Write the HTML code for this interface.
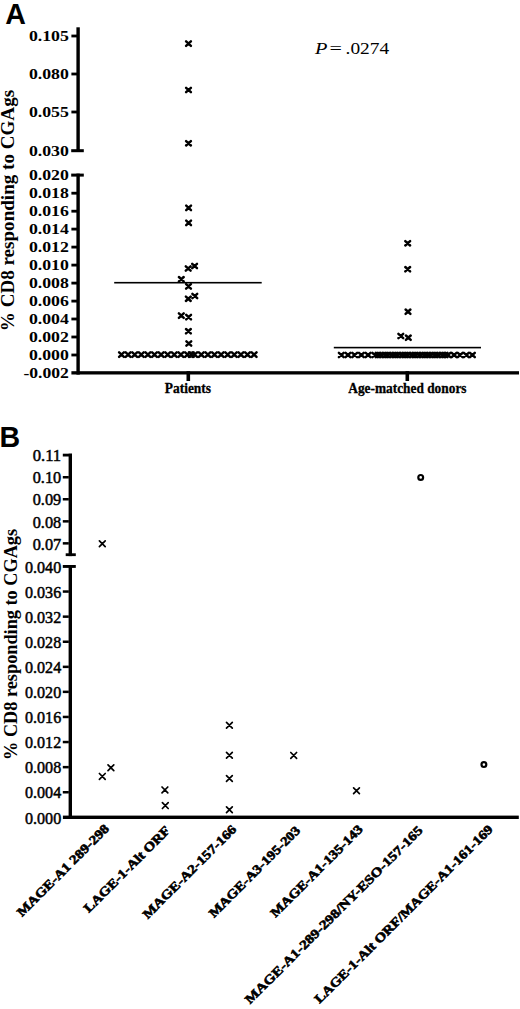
<!DOCTYPE html>
<html><head><meta charset="utf-8"><style>
html,body{margin:0;padding:0;background:#fff;}
svg{display:block;}
.s{font-family:"Liberation Serif",serif;}
.sb{font-family:"Liberation Serif",serif;font-weight:bold;}
.a{font-family:"Liberation Sans",sans-serif;font-weight:bold;}
.tb{stroke:#000;stroke-width:0.5px;}
</style></head><body>
<svg width="520" height="1009" viewBox="0 0 520 1009">
<defs>
<path id="bx" d="M-2.4,-2.2 L2.4,2.2 M-2.4,2.2 L2.4,-2.2" stroke="#000" stroke-width="2.5" fill="none" stroke-linecap="round"/>
<path id="tx" d="M-2.9,-2.9 L2.9,2.9 M-2.9,2.9 L2.9,-2.9" stroke="#000" stroke-width="1.7" fill="none" stroke-linecap="round"/>
</defs>
<g fill="#000">
<text class="a" x="5.3" y="23.9" font-size="28.6">A</text>
<rect x="76.4" y="27.3" width="3.4" height="124.7" />
<rect x="71.2" y="149.2" width="12.6" height="3" />
<rect x="71.2" y="173.6" width="12.6" height="3" />
<rect x="76.4" y="173.6" width="3.4" height="201" />
<rect x="71.4" y="34.6" width="6" height="2.8" />
<rect x="71.4" y="72.6" width="6" height="2.8" />
<rect x="71.4" y="110.6" width="6" height="2.8" />
<rect x="71.4" y="191.8" width="6" height="2.8" />
<rect x="71.4" y="209.8" width="6" height="2.8" />
<rect x="71.4" y="227.7" width="6" height="2.8" />
<rect x="71.4" y="245.7" width="6" height="2.8" />
<rect x="71.4" y="263.7" width="6" height="2.8" />
<rect x="71.4" y="281.7" width="6" height="2.8" />
<rect x="71.4" y="299.7" width="6" height="2.8" />
<rect x="71.4" y="317.6" width="6" height="2.8" />
<rect x="71.4" y="335.6" width="6" height="2.8" />
<rect x="71.4" y="353.6" width="6" height="2.8" />
<rect x="71.4" y="371.2" width="447.6" height="3.3" />
<rect x="186.5" y="371.2" width="3.6" height="9.8" />
<rect x="405.5" y="371.2" width="3.6" height="9.8" />
<text class="sb" x="68.9" y="41.0" text-anchor="end" font-size="14.9" textLength="40.0" lengthAdjust="spacingAndGlyphs">0.105</text>
<text class="sb" x="68.9" y="79.0" text-anchor="end" font-size="14.9" textLength="40.0" lengthAdjust="spacingAndGlyphs">0.080</text>
<text class="sb" x="68.9" y="117.0" text-anchor="end" font-size="14.9" textLength="40.0" lengthAdjust="spacingAndGlyphs">0.055</text>
<text class="sb" x="68.9" y="155.5" text-anchor="end" font-size="14.9" textLength="40.0" lengthAdjust="spacingAndGlyphs">0.030</text>
<text class="sb" x="68.9" y="180.2" text-anchor="end" font-size="14.9" textLength="40.0" lengthAdjust="spacingAndGlyphs">0.020</text>
<text class="sb" x="68.9" y="198.2" text-anchor="end" font-size="14.9" textLength="40.0" lengthAdjust="spacingAndGlyphs">0.018</text>
<text class="sb" x="68.9" y="216.2" text-anchor="end" font-size="14.9" textLength="40.0" lengthAdjust="spacingAndGlyphs">0.016</text>
<text class="sb" x="68.9" y="234.1" text-anchor="end" font-size="14.9" textLength="40.0" lengthAdjust="spacingAndGlyphs">0.014</text>
<text class="sb" x="68.9" y="252.1" text-anchor="end" font-size="14.9" textLength="40.0" lengthAdjust="spacingAndGlyphs">0.012</text>
<text class="sb" x="68.9" y="270.1" text-anchor="end" font-size="14.9" textLength="40.0" lengthAdjust="spacingAndGlyphs">0.010</text>
<text class="sb" x="68.9" y="288.1" text-anchor="end" font-size="14.9" textLength="40.0" lengthAdjust="spacingAndGlyphs">0.008</text>
<text class="sb" x="68.9" y="306.1" text-anchor="end" font-size="14.9" textLength="40.0" lengthAdjust="spacingAndGlyphs">0.006</text>
<text class="sb" x="68.9" y="324.0" text-anchor="end" font-size="14.9" textLength="40.0" lengthAdjust="spacingAndGlyphs">0.004</text>
<text class="sb" x="68.9" y="342.0" text-anchor="end" font-size="14.9" textLength="40.0" lengthAdjust="spacingAndGlyphs">0.002</text>
<text class="sb" x="68.9" y="360.0" text-anchor="end" font-size="14.9" textLength="40.0" lengthAdjust="spacingAndGlyphs">0.000</text>
<text class="sb" x="68.9" y="378.0" text-anchor="end" font-size="14.9" textLength="45.5" lengthAdjust="spacingAndGlyphs">-0.002</text>
<text class="sb" transform="translate(14.3,331.2) rotate(-90)" font-size="18" textLength="241.3" lengthAdjust="spacingAndGlyphs">% CD8 responding to CGAgs</text>
<text class="sb" x="164.8" y="393.2" font-size="13.8" stroke="#000" stroke-width="0.3" textLength="46.2" lengthAdjust="spacingAndGlyphs">Patients</text>
<text class="sb" x="348.3" y="393.3" font-size="13.8" stroke="#000" stroke-width="0.3" textLength="118.2" lengthAdjust="spacingAndGlyphs">Age-matched donors</text>
<text class="s" x="315.0" y="54.0" font-size="17.6" font-style="italic" textLength="12.4" lengthAdjust="spacingAndGlyphs">P</text>
<text class="s" x="329.6" y="54.0" font-size="17.6" textLength="12.4" lengthAdjust="spacingAndGlyphs">=</text>
<text class="s" x="345.6" y="54.0" font-size="17.6" textLength="43.6" lengthAdjust="spacingAndGlyphs">.0274</text>
<rect x="114.2" y="281.9" width="147.5" height="1.6" />
<rect x="333.8" y="346.8" width="147.2" height="1.6" />
<use href="#bx" x="188.5" y="43.6" />
<use href="#bx" x="188.5" y="90.0" />
<use href="#bx" x="188.5" y="143.3" />
<use href="#bx" x="188.6" y="207.9" />
<use href="#bx" x="188.6" y="222.9" />
<use href="#bx" x="194.6" y="266.0" />
<use href="#bx" x="188.2" y="268.5" />
<use href="#bx" x="181.3" y="279.2" />
<use href="#bx" x="188.5" y="286.4" />
<use href="#bx" x="194.8" y="296.0" />
<use href="#bx" x="188.3" y="298.8" />
<use href="#bx" x="181.3" y="315.6" />
<use href="#bx" x="188.6" y="317.1" />
<use href="#bx" x="188.4" y="331.2" />
<use href="#bx" x="188.8" y="343.5" />
<use href="#bx" x="121.5" y="354.6" />
<use href="#bx" x="128.1" y="354.6" />
<use href="#bx" x="134.7" y="354.6" />
<use href="#bx" x="141.3" y="354.6" />
<use href="#bx" x="147.9" y="354.6" />
<use href="#bx" x="154.5" y="354.6" />
<use href="#bx" x="161.1" y="354.6" />
<use href="#bx" x="167.7" y="354.6" />
<use href="#bx" x="174.3" y="354.6" />
<use href="#bx" x="180.9" y="354.6" />
<use href="#bx" x="187.5" y="354.6" />
<use href="#bx" x="191.3" y="354.6" />
<use href="#bx" x="194.7" y="354.6" />
<use href="#bx" x="201.3" y="354.6" />
<use href="#bx" x="207.9" y="354.6" />
<use href="#bx" x="214.5" y="354.6" />
<use href="#bx" x="221.1" y="354.6" />
<use href="#bx" x="227.7" y="354.6" />
<use href="#bx" x="234.3" y="354.6" />
<use href="#bx" x="240.9" y="354.6" />
<use href="#bx" x="247.5" y="354.6" />
<use href="#bx" x="254.1" y="354.6" />
<use href="#bx" x="407.7" y="243.3" />
<use href="#bx" x="407.7" y="269.2" />
<use href="#bx" x="408.0" y="311.7" />
<use href="#bx" x="400.8" y="336.0" />
<use href="#bx" x="408.3" y="337.7" />
<use href="#bx" x="341.3" y="355.0" />
<use href="#bx" x="348.0" y="355.0" />
<use href="#bx" x="354.7" y="355.0" />
<use href="#bx" x="361.4" y="355.0" />
<use href="#bx" x="368.1" y="355.0" />
<use href="#bx" x="374.8" y="355.0" />
<use href="#bx" x="378.1" y="355.0" />
<use href="#bx" x="381.5" y="355.0" />
<use href="#bx" x="384.8" y="355.0" />
<use href="#bx" x="388.2" y="355.0" />
<use href="#bx" x="391.5" y="355.0" />
<use href="#bx" x="394.9" y="355.0" />
<use href="#bx" x="398.2" y="355.0" />
<use href="#bx" x="401.6" y="355.0" />
<use href="#bx" x="404.9" y="355.0" />
<use href="#bx" x="408.2" y="355.0" />
<use href="#bx" x="411.6" y="355.0" />
<use href="#bx" x="415.0" y="355.0" />
<use href="#bx" x="418.3" y="355.0" />
<use href="#bx" x="421.7" y="355.0" />
<use href="#bx" x="425.0" y="355.0" />
<use href="#bx" x="428.4" y="355.0" />
<use href="#bx" x="431.7" y="355.0" />
<use href="#bx" x="435.1" y="355.0" />
<use href="#bx" x="438.4" y="355.0" />
<use href="#bx" x="441.8" y="355.0" />
<use href="#bx" x="445.1" y="355.0" />
<use href="#bx" x="448.0" y="355.0" />
<use href="#bx" x="454.1" y="355.0" />
<use href="#bx" x="460.2" y="355.0" />
<use href="#bx" x="466.3" y="355.0" />
<use href="#bx" x="472.4" y="355.0" />
<text class="a" x="-0.6" y="446.6" font-size="28.6">B</text>
<rect x="68.6" y="453.7" width="3.4" height="102.4" />
<rect x="62.8" y="453.7" width="9.2" height="2.8" />
<rect x="65.7" y="553.3" width="10.1" height="2.8" />
<rect x="62.8" y="565.0" width="13.0" height="2.9" />
<rect x="68.6" y="565.0" width="3.4" height="254.0" />
<rect x="62.8" y="476.0" width="6" height="2.5" />
<rect x="62.8" y="498.0" width="6" height="2.5" />
<rect x="62.8" y="520.1" width="6" height="2.5" />
<rect x="62.8" y="542.1" width="6" height="2.5" />
<rect x="62.8" y="590.3" width="6" height="2.5" />
<rect x="62.8" y="615.4" width="6" height="2.5" />
<rect x="62.8" y="640.5" width="6" height="2.5" />
<rect x="62.8" y="665.6" width="6" height="2.5" />
<rect x="62.8" y="690.6" width="6" height="2.5" />
<rect x="62.8" y="715.7" width="6" height="2.5" />
<rect x="62.8" y="740.8" width="6" height="2.5" />
<rect x="62.8" y="765.9" width="6" height="2.5" />
<rect x="62.8" y="791.0" width="6" height="2.5" />
<rect x="62.9" y="815.6" width="455.9" height="3.4" />
<text class="s tb" x="61.2" y="461.4" text-anchor="end" font-size="17" textLength="28.5" lengthAdjust="spacingAndGlyphs">0.11</text>
<text class="s tb" x="61.2" y="483.4" text-anchor="end" font-size="17" textLength="28.5" lengthAdjust="spacingAndGlyphs">0.10</text>
<text class="s tb" x="61.2" y="505.4" text-anchor="end" font-size="17" textLength="28.5" lengthAdjust="spacingAndGlyphs">0.09</text>
<text class="s tb" x="61.2" y="527.5" text-anchor="end" font-size="17" textLength="28.5" lengthAdjust="spacingAndGlyphs">0.08</text>
<text class="s tb" x="61.2" y="549.5" text-anchor="end" font-size="17" textLength="28.5" lengthAdjust="spacingAndGlyphs">0.07</text>
<text class="s tb" x="61.2" y="572.6" text-anchor="end" font-size="17" textLength="36.2" lengthAdjust="spacingAndGlyphs">0.040</text>
<text class="s tb" x="61.2" y="597.7" text-anchor="end" font-size="17" textLength="36.2" lengthAdjust="spacingAndGlyphs">0.036</text>
<text class="s tb" x="61.2" y="622.8" text-anchor="end" font-size="17" textLength="36.2" lengthAdjust="spacingAndGlyphs">0.032</text>
<text class="s tb" x="61.2" y="647.9" text-anchor="end" font-size="17" textLength="36.2" lengthAdjust="spacingAndGlyphs">0.028</text>
<text class="s tb" x="61.2" y="673.0" text-anchor="end" font-size="17" textLength="36.2" lengthAdjust="spacingAndGlyphs">0.024</text>
<text class="s tb" x="61.2" y="698.1" text-anchor="end" font-size="17" textLength="36.2" lengthAdjust="spacingAndGlyphs">0.020</text>
<text class="s tb" x="61.2" y="723.1" text-anchor="end" font-size="17" textLength="36.2" lengthAdjust="spacingAndGlyphs">0.016</text>
<text class="s tb" x="61.2" y="748.2" text-anchor="end" font-size="17" textLength="36.2" lengthAdjust="spacingAndGlyphs">0.012</text>
<text class="s tb" x="61.2" y="773.3" text-anchor="end" font-size="17" textLength="36.2" lengthAdjust="spacingAndGlyphs">0.008</text>
<text class="s tb" x="61.2" y="798.4" text-anchor="end" font-size="17" textLength="36.2" lengthAdjust="spacingAndGlyphs">0.004</text>
<text class="s tb" x="61.2" y="823.5" text-anchor="end" font-size="17" textLength="36.2" lengthAdjust="spacingAndGlyphs">0.000</text>
<text class="sb" transform="translate(17,759.9) rotate(-90)" font-size="18.6" textLength="231" lengthAdjust="spacingAndGlyphs">% CD8 responding to CGAgs</text>
<use href="#tx" x="102.3" y="543.7" />
<use href="#tx" x="102.3" y="776.4" />
<use href="#tx" x="110.9" y="767.7" />
<use href="#tx" x="164.9" y="789.9" />
<use href="#tx" x="165.3" y="805.6" />
<use href="#tx" x="229.4" y="725.3" />
<use href="#tx" x="229.4" y="755.3" />
<use href="#tx" x="229.4" y="778.5" />
<use href="#tx" x="229.4" y="809.8" />
<use href="#tx" x="293.7" y="755.4" />
<use href="#tx" x="356.5" y="790.8" />
<circle cx="420.7" cy="477.4" r="2.4" fill="none" stroke="#000" stroke-width="2.2" />
<circle cx="483.9" cy="764.6" r="2.4" fill="none" stroke="#000" stroke-width="2.2" />
<text class="sb" transform="translate(102.80,822.40) rotate(-45)" text-anchor="end" dy="10" font-size="12.8" stroke="#000" stroke-width="0.6" textLength="124.3" lengthAdjust="spacingAndGlyphs">MAGE-A1 289-298</text>
<text class="sb" transform="translate(163.80,824.10) rotate(-45)" text-anchor="end" dy="10" font-size="12.8" stroke="#000" stroke-width="0.6" textLength="116.1" lengthAdjust="spacingAndGlyphs">LAGE-1-Alt ORF</text>
<text class="sb" transform="translate(230.10,823.00) rotate(-45)" text-anchor="end" dy="10" font-size="12.8" stroke="#000" stroke-width="0.6" textLength="126.5" lengthAdjust="spacingAndGlyphs">MAGE-A2-157-166</text>
<text class="sb" transform="translate(294.00,824.10) rotate(-45)" text-anchor="end" dy="10" font-size="12.8" stroke="#000" stroke-width="0.6" textLength="123.3" lengthAdjust="spacingAndGlyphs">MAGE-A3-195-203</text>
<text class="sb" transform="translate(356.50,823.00) rotate(-45)" text-anchor="end" dy="10" font-size="12.8" stroke="#000" stroke-width="0.6" textLength="124.4" lengthAdjust="spacingAndGlyphs">MAGE-A1-135-143</text>
<text class="sb" transform="translate(416.40,824.10) rotate(-45)" text-anchor="end" dy="10" font-size="12.8" stroke="#000" stroke-width="0.6" textLength="245.2" lengthAdjust="spacingAndGlyphs">MAGE-A1-289-298/NY-ESO-157-165</text>
<text class="sb" transform="translate(486.50,823.00) rotate(-45)" text-anchor="end" dy="10" font-size="12.8" stroke="#000" stroke-width="0.6" textLength="246.1" lengthAdjust="spacingAndGlyphs">LAGE-1-Alt ORF/MAGE-A1-161-169</text>
</g>
</svg>
</body></html>
